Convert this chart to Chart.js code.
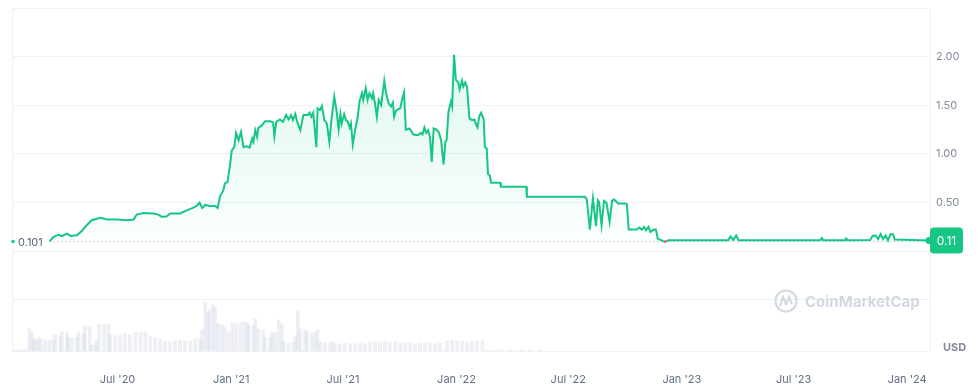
<!DOCTYPE html>
<html>
<head>
<meta charset="utf-8">
<script src="https://cdn.jsdelivr.net/npm/chart.js@4/dist/chart.umd.min.js"></script>
<style>
  html, body { margin: 0; padding: 0; background: #fff; }
  #wrap { width: 980px; height: 391px; position: relative; }
</style>
</head>
<body>
<div id="wrap"><canvas id="priceChart"></canvas></div>
<script>
// x values are days since 2020-01-01
const priceDays = [72, 78, 86, 92, 100, 106, 116, 124, 132, 140, 154, 165, 181, 197, 208, 213, 224, 240, 248, 254,
    262, 267, 283, 294, 305, 310, 315, 319, 324, 332, 340, 344, 348, 353, 356, 360, 364, 367, 371, 374,
    378, 382, 386, 391, 396, 400, 402, 405, 408, 410, 416, 421, 429, 434, 436, 439, 445, 450, 455, 459,
    463, 466, 470, 473, 478, 483, 490, 493, 496, 499, 504, 506, 510, 513, 517, 521, 525, 529, 533, 537,
    540, 543, 545, 549, 552, 555, 558, 560, 563, 567, 571, 574, 578, 580, 584, 587, 590, 594, 596, 599,
    602, 605, 609, 614, 617, 621, 625, 628, 630, 633, 640, 642, 646, 649, 655, 661, 669, 673, 676, 679,
    682, 685, 688, 691, 694, 698, 702, 706, 710, 713, 715, 718, 722, 724, 727, 730, 734, 736, 740, 742,
    745, 748, 752, 756, 760, 763, 765, 768, 771, 775, 777, 780, 782, 785, 787, 802, 803, 844, 845, 939,
    942, 947, 952, 957, 960, 962, 966, 970, 974, 979, 983, 986, 993, 1004, 1007, 1010, 1023, 1027, 1031, 1035,
    1038, 1042, 1045, 1051, 1054, 1057, 1064, 1067, 1071, 1074, 1171, 1175, 1179, 1184, 1188, 1320, 1323, 1325, 1361, 1362,
    1365, 1401, 1405, 1410, 1414, 1418, 1422, 1426, 1430, 1434, 1438, 1441, 1497];
const prices = [0.101, 0.146, 0.170, 0.155, 0.182, 0.158, 0.165, 0.209, 0.268, 0.319, 0.343, 0.326, 0.326, 0.319, 0.326, 0.377, 0.394, 0.388, 0.377, 0.353,
    0.360, 0.388, 0.388, 0.421, 0.449, 0.465, 0.500, 0.445, 0.476, 0.465, 0.465, 0.445, 0.565, 0.620, 0.700, 0.710, 0.880, 1.037, 1.070, 1.217,
    1.141, 1.227, 1.070, 1.079, 1.065, 1.158, 1.124, 1.244, 1.175, 1.268, 1.296, 1.337, 1.337, 1.324, 1.182, 1.330, 1.355, 1.330, 1.400, 1.355,
    1.400, 1.348, 1.410, 1.330, 1.244, 1.400, 1.400, 1.424, 1.382, 1.424, 1.070, 1.469, 1.451, 1.493, 1.348, 1.313, 1.124, 1.382, 1.589, 1.434,
    1.252, 1.410, 1.313, 1.410, 1.348, 1.330, 1.272, 1.313, 1.097, 1.252, 1.382, 1.544, 1.624, 1.555, 1.676, 1.555, 1.624, 1.572, 1.624, 1.520,
    1.382, 1.555, 1.503, 1.754, 1.624, 1.520, 1.486, 1.527, 1.382, 1.444, 1.470, 1.537, 1.630, 1.250, 1.262, 1.200, 1.193, 1.217, 1.200, 1.272,
    1.217, 1.244, 1.175, 0.917, 1.262, 1.252, 1.227, 1.148, 0.893, 1.124, 1.141, 1.434, 1.537, 1.486, 2.020, 1.762, 1.734, 1.665, 1.754, 1.692,
    1.734, 1.692, 1.365, 1.348, 1.355, 1.296, 1.272, 1.389, 1.424, 1.355, 1.070, 1.055, 0.797, 0.779, 0.703, 0.703, 0.662, 0.662, 0.559, 0.559,
    0.535, 0.223, 0.543, 0.257, 0.525, 0.508, 0.268, 0.518, 0.497, 0.302, 0.518, 0.533, 0.491, 0.491, 0.484, 0.223, 0.223, 0.244, 0.223, 0.250,
    0.216, 0.250, 0.199, 0.223, 0.223, 0.130, 0.110, 0.100, 0.100, 0.112, 0.113, 0.154, 0.116, 0.162, 0.113, 0.113, 0.136, 0.113, 0.113, 0.131,
    0.113, 0.116, 0.157, 0.162, 0.126, 0.175, 0.126, 0.162, 0.113, 0.175, 0.175, 0.120, 0.110];

const volumeDays = [11, 16, 21, 26, 31, 36, 39, 43, 46, 50, 54, 58, 65, 72, 78, 81, 89, 92, 100, 102,
    108, 116, 119, 127, 129, 137, 140, 146, 148, 152, 160, 167, 170, 178, 186, 194, 202, 211, 219, 227,
    235, 243, 251, 259, 267, 275, 283, 291, 300, 308, 316, 319, 324, 328, 331, 336, 340, 345, 351, 356,
    362, 368, 374, 381, 387, 392, 394, 402, 405, 410, 418, 421, 429, 432, 437, 443, 448, 451, 459, 467,
    470, 474, 478, 486, 489, 497, 502, 506, 510, 518, 526, 531, 534, 542, 550, 559, 567, 575, 583, 591,
    599, 607, 615, 623, 632, 640, 648, 656, 664, 672, 680, 688, 696, 704, 716, 724, 732, 740, 748, 756,
    764, 773, 781, 789, 797, 805, 818, 834, 850, 866];
const volumes = [1, 1, 1, 1, 1, 1, 22, 19, 12, 11, 13, 12, 11, 10, 11, 16, 15, 19, 18, 14,
    13, 14, 18, 17, 25, 24, 6, 6, 11, 27, 26, 26, 16, 15, 16, 17, 16, 19, 18, 19,
    14, 13, 12, 10, 9, 10, 11, 10, 10, 12, 12, 21, 48, 39, 41, 46, 44, 27, 26, 24,
    19, 28, 27, 28, 29, 28, 26, 25, 32, 22, 21, 14, 13, 19, 18, 31, 27, 9, 8, 9,
    14, 40, 22, 21, 19, 18, 19, 21, 9, 8, 9, 9, 7, 7, 8, 7, 7, 8, 7, 9,
    9, 9, 10, 9, 9, 8, 8, 8, 7, 8, 8, 8, 7, 8, 10, 11, 10, 10, 9, 10,
    10, 10, 1, 1, 1, 1, 1, 1, 1, 1];

const tickDays = [182, 366, 547, 731, 912, 1096, 1277, 1461];
const tickLabels = ["Jul '20", "Jan '21", "Jul '21", "Jan '22", "Jul '22", "Jan '23", "Jul '23", "Jan '24"];
const priceTicks = [-0.5, 0, 0.5, 1, 1.5, 2];

const GREEN = '#16c784';
const RED = '#ea3943';
const baseline = prices[0];
const lastPrice = prices[prices.length - 1];

const framePlugin = {
    id: 'frame',
    beforeDatasetsDraw(chart) {
        const { ctx, chartArea: a } = chart;
        ctx.save();
        ctx.strokeStyle = '#eff2f5';
        ctx.lineWidth = 1;
        ctx.strokeRect(a.left + 0.5, a.top + 0.5, a.right - a.left, a.bottom - a.top);
        // watermark
        ctx.strokeStyle = '#d3d9e4';
        ctx.fillStyle = '#d3d9e4';
        ctx.lineWidth = 2.2;
        ctx.beginPath();
        ctx.arc(786, 301, 10.5, 0, Math.PI * 2);
        ctx.stroke();
        ctx.beginPath();
        ctx.moveTo(780, 306);
        ctx.lineTo(783, 297);
        ctx.lineTo(786, 304);
        ctx.lineTo(789, 297);
        ctx.lineTo(792, 304);
        ctx.stroke();
        ctx.font = 'bold 15px Inter, sans-serif';
        ctx.textBaseline = 'middle';
        ctx.textAlign = 'left';
        ctx.fillText('CoinMarketCap', 805, 302);
        ctx.restore();
    },
    afterDatasetsDraw(chart) {
        const { ctx, chartArea: a, scales } = chart;
        const yBase = scales.y.getPixelForValue(baseline);
        const yLast = scales.y.getPixelForValue(lastPrice);
        ctx.save();
        // left baseline label
        ctx.fillStyle = '#ffffff';
        ctx.fillRect(a.left + 4, yBase - 7, 32, 14);
        ctx.fillStyle = GREEN;
        ctx.beginPath();
        ctx.arc(a.left + 1, yBase, 1.8, 0, Math.PI * 2);
        ctx.fill();
        ctx.fillStyle = '#58667e';
        ctx.font = '11px Inter, sans-serif';
        ctx.textBaseline = 'middle';
        ctx.textAlign = 'left';
        ctx.fillText(baseline.toFixed(3), a.left + 6, yBase + 1);
        // right last price tag
        ctx.fillStyle = GREEN;
        ctx.beginPath();
        ctx.arc(a.right - 1, yLast, 3.5, 0, Math.PI * 2);
        ctx.fill();
        ctx.beginPath();
        ctx.roundRect(a.right, yLast - 13, 33, 26, 4);
        ctx.fill();
        ctx.fillStyle = '#ffffff';
        ctx.font = '12px Inter, sans-serif';
        ctx.textAlign = 'center';
        ctx.fillText(lastPrice.toFixed(2), a.right + 16.5, yLast + 1);
        // currency
        ctx.fillStyle = '#808a9d';
        ctx.font = 'bold 11px Inter, sans-serif';
        ctx.textAlign = 'left';
        ctx.fillText('USD', 943, 348);
        ctx.restore();
    }
};

function initChart() {
    const ctx = document.getElementById('priceChart').getContext('2d');
    const maxVol = Math.max(...volumes);

    new Chart(ctx, {
        type: 'line',
        data: {
            datasets: [
                {
                    label: 'Price',
                    data: priceDays.map((d, i) => ({ x: d, y: prices[i] })),
                    borderColor: GREEN,
                    borderWidth: 2,
                    pointRadius: 0,
                    tension: 0,
                    order: 1,
                    fill: { value: baseline },
                    backgroundColor: (c) => {
                        const area = c.chart.chartArea;
                        if (!area) return 'rgba(22,199,132,0.08)';
                        const yb = c.chart.scales.y.getPixelForValue(baseline);
                        const g = c.chart.ctx.createLinearGradient(0, area.top, 0, yb);
                        g.addColorStop(0, 'rgba(22,199,132,0.16)');
                        g.addColorStop(1, 'rgba(22,199,132,0.02)');
                        return g;
                    },
                    segment: {
                        borderColor: (s) => (s.p0.parsed.y < baseline && s.p1.parsed.y < baseline) ? RED : GREEN
                    }
                },
                {
                    label: 'Open',
                    data: [{ x: priceDays[0], y: baseline }, { x: priceDays[priceDays.length - 1], y: baseline }],
                    borderColor: '#a1a7bb',
                    borderWidth: 1,
                    borderDash: [1, 3],
                    pointRadius: 0,
                    fill: false,
                    order: 2
                },
                {
                    type: 'bar',
                    label: 'Volume',
                    data: volumeDays.map((d, i) => ({ x: d, y: volumes[i] })),
                    backgroundColor: 'rgba(207, 214, 228, 0.38)',
                    borderWidth: 0,
                    barThickness: 3,
                    yAxisID: 'yv',
                    order: 3
                }
            ]
        },
        options: {
            responsive: true,
            maintainAspectRatio: false,
            animation: false,
            layout: { padding: { left: 12, top: 8, right: 0, bottom: 0 } },
            plugins: { legend: { display: false }, tooltip: { enabled: false } },
            scales: {
                x: {
                    type: 'linear',
                    offset: false,
                    min: 11,
                    max: 1498,
                    grid: { display: false, offset: false },
                    border: { display: false },
                    afterBuildTicks: (scale) => { scale.ticks = tickDays.map(v => ({ value: v })); },
                    afterFit: (scale) => { scale.height = 40; scale.paddingLeft = 0; scale.paddingRight = 0; },
                    ticks: {
                        color: '#616e85',
                        font: { family: 'Inter', size: 11 },
                        padding: 14,
                        maxRotation: 0,
                        autoSkip: false,
                        callback: (v) => tickLabels[tickDays.indexOf(v)]
                    }
                },
                y: {
                    position: 'right',
                    min: -1.025,
                    max: 2.5,
                    grid: { color: '#eff2f5', drawTicks: false },
                    border: { display: false },
                    afterBuildTicks: (scale) => { scale.ticks = priceTicks.map(v => ({ value: v })); },
                    afterFit: (scale) => { scale.width = 50; scale.paddingTop = 0; scale.paddingBottom = 0; },
                    ticks: {
                        color: '#808a9d',
                        font: { family: 'Inter', size: 11 },
                        padding: 6,
                        callback: (v) => v >= 0.5 ? v.toFixed(2) : ''
                    }
                },
                yv: {
                    display: false,
                    min: 0,
                    max: maxVol * 7.1
                }
            }
        },
        plugins: [framePlugin]
    });
}

document.addEventListener('DOMContentLoaded', initChart);
</script>
</body>
</html>
